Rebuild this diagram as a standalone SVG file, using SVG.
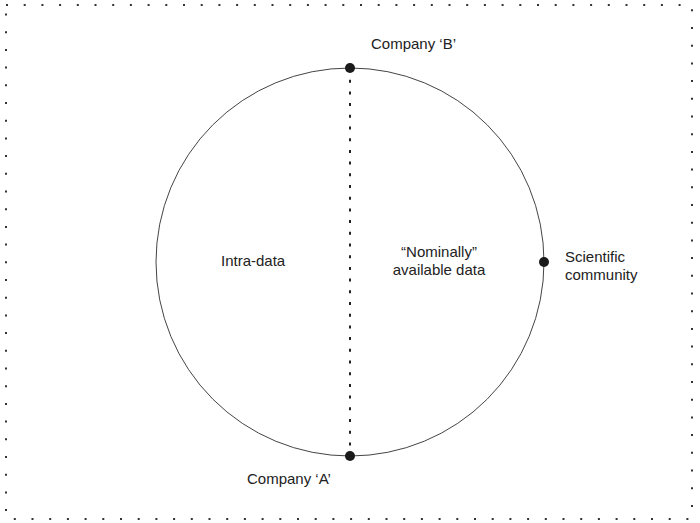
<svg xmlns="http://www.w3.org/2000/svg" width="700" height="523" viewBox="0 0 700 523">
<style>
.lbl{font-family:"Liberation Sans",Arial,sans-serif;font-size:15px;fill:#222}
.dot{fill:#1a1a1a}
.border{fill:none;stroke:#333;stroke-width:2;stroke-dasharray:2 15.7}
</style>
<rect width="700" height="523" fill="#fff"/>
<rect class="border" x="6" y="5" width="686" height="514"/>
<g id="connectors">
<circle cx="350" cy="262" r="194" fill="none" stroke="#444" stroke-width="1"/>
<line x1="350" y1="68" x2="350" y2="456" stroke="#222" stroke-width="2" stroke-dasharray="3 8.7"/>
</g>
<g id="company-b">
<circle class="dot" cx="350" cy="68" r="5"/>
<text class="lbl" x="371" y="49">Company ‘B’</text>
</g>
<g id="company-a">
<circle class="dot" cx="350" cy="456" r="5"/>
<text class="lbl" x="247" y="484">Company ‘A’</text>
</g>
<g id="scientific-community">
<circle class="dot" cx="544" cy="262" r="5"/>
<text class="lbl" x="565" y="262">Scientific</text>
<text class="lbl" x="565" y="280">community</text>
</g>
<g id="intra-data">
<text class="lbl" x="221" y="266">Intra-data</text>
</g>
<g id="nominally-available">
<text class="lbl" x="439" y="257" text-anchor="middle">“Nominally”</text>
<text class="lbl" x="439" y="275" text-anchor="middle">available data</text>
</g>
</svg>
